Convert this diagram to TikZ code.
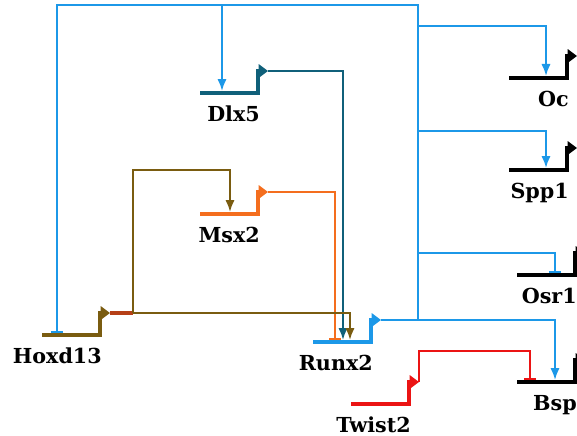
\documentclass[tikz,border=0pt]{standalone}
\usepackage{fontspec}
\setmainfont{DejaVu Serif}
\usetikzlibrary{arrows.meta,calc}
\definecolor{netblue}{RGB}{28,152,232}
\definecolor{dlxteal}{RGB}{16,96,122}
\definecolor{msxorange}{RGB}{244,110,30}
\definecolor{hoxbrown}{RGB}{122,92,16}
\definecolor{hoxred}{RGB}{182,64,24}
\definecolor{twistred}{RGB}{235,20,20}
\begin{document}
\begin{tikzpicture}[x=0.75pt,y=-0.75pt,
  gene/.style={line width=2.6pt,-{Triangle[length=7pt,width=10pt]}},
  link/.style={line width=1.5pt},
  act/.style={link,-{Latex[length=9pt,width=7pt]}},
  inh/.style={link,-{Bar[width=9pt]}},
  lbl/.style={font=\fontsize{15.5}{17}\selectfont\bfseries,anchor=base east,inner sep=0pt}]
\useasboundingbox (0,0) rectangle (577,435);
% genes: bar, riser and promoter arrow
\foreach \g/\x/\y/\c in {Dlx5/200/93/dlxteal,Msx2/200/214/msxorange,
    Hoxd13/42/335/hoxbrown,Runx2/313/342/netblue,Twist2/351/404/twistred,
    Oc/509/78/black,Spp1/509/170/black,Osr1/517/275/black,Bsp/517/382/black}{
  \draw[gene,\c] (\x,\y) coordinate (\g-l) -- ++(58,0) -- ++(0,-22) -- ++(10,0) coordinate (\g-o);
  \node[lbl] (\g) at (\x+60,\y+28) {\g};
}
% input points on the bars
\foreach \p/\g/\d in {Dlx5-a/Dlx5/22,Msx2-a/Msx2/30,Hoxd13-i/Hoxd13/15,
    Runx2-i/Runx2/22,Runx2-a/Runx2/30,Runx2-b/Runx2/37,Oc-a/Oc/37,
    Spp1-a/Spp1/37,Osr1-i/Osr1/38,Bsp-i/Bsp/13,Bsp-a/Bsp/38}
  \coordinate (\p) at ($(\g-l)+(\d,-2)$);
\coordinate (hub) at (418,320);
\coordinate (top) at (418,5);
\coordinate (b1) at (418,26);
\coordinate (b2) at (418,131);
\coordinate (b3) at (418,253);
\coordinate (hx) at ($(Hoxd13-o)+(23,0)$);
% Runx2 targets
\draw[act,netblue] (Runx2-o) -- (hub) -| (Bsp-a);
\draw[inh,netblue] (hub) -- (top) -| (Hoxd13-i);
\draw[act,netblue] (top -| Dlx5-a) -- (Dlx5-a);
\draw[act,netblue] (b1) -| (Oc-a);
\draw[act,netblue] (b2) -| (Spp1-a);
\draw[inh,netblue] (b3) -| (Osr1-i);
% regulators of Runx2
\draw[act,dlxteal] (Dlx5-o) -| (Runx2-a);
\draw[inh,msxorange] (Msx2-o) -| (Runx2-i);
\draw[line width=2.6pt,hoxred] (Hoxd13-o) -- (hx);
\draw[act,hoxbrown] (hx) -| (Runx2-b);
\draw[act,hoxbrown] (hx) -- ++(0,-143) -| (Msx2-a);
\draw[inh,twistred] (Twist2-o) -- ++(0,-31) -| (Bsp-i);
\end{tikzpicture}
\end{document}
